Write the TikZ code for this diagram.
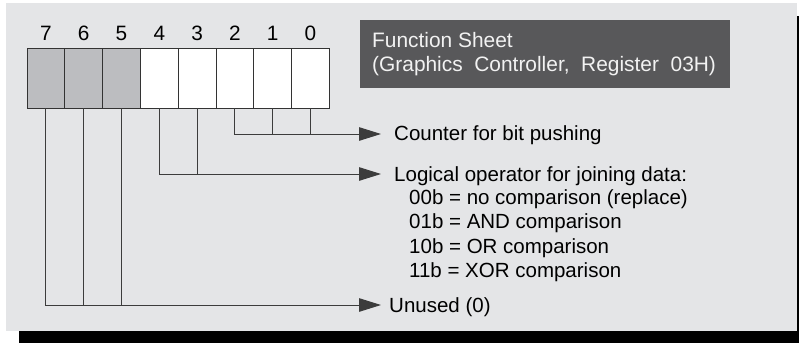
\documentclass[tikz,border=0pt]{standalone}
\usepackage{fontspec}
\setmainfont{Liberation Sans}
\usetikzlibrary{arrows.meta}
\definecolor{panel}{HTML}{E4E5E7}
\definecolor{cellgray}{HTML}{BCBDC0}
\definecolor{titlegray}{HTML}{58585A}
\definecolor{titletext}{HTML}{F2F2F2}
\definecolor{linegray}{HTML}{3C3C3C}
\begin{document}
\begin{tikzpicture}[x=1pt,y=-1pt,
  cell/.style={draw=black!80, line width=0.8pt, minimum width=37.8pt, minimum height=60pt, inner sep=0pt},
  txt/.style={anchor=base west, inner sep=0pt, font=\fontsize{20.5}{24.4}\selectfont, text=black},
  bitlabel/.style={anchor=base, inner sep=0pt, font=\fontsize{20.8}{24.4}\selectfont, text=black},
  titlebox/.style={anchor=north west, fill=titlegray, minimum width=370pt, minimum height=68pt, inner sep=0pt},
  titletxt/.style={anchor=base west, inner sep=0pt, font=\fontsize{20.9}{24.4}\selectfont, text=titletext},
  conn/.style={draw=linegray, line width=1pt},
  tip/.style={-{Triangle[length=22pt,width=13.5pt]}}
]
\useasboundingbox (0,0) rectangle (799,343);
\fill[black] (19,16) rectangle (799,343);
\fill[panel] (6,3) rectangle (797,330.5);

\foreach \b/\c [count=\k from 0] in {7/cellgray,6/cellgray,5/cellgray,4/white,3/white,2/white,1/white,0/white}{
  \node[cell, fill=\c] (b\b) at ({27+37.8*(\k+0.5)},78) {};
  \node[bitlabel] (l\b) at ({27+37.8*(\k+0.5)},40.7) {\b};
}

\node[titlebox] (title) at (360,20) {};
\node[titletxt] (t1) at (372,47.3) {Function Sheet};
\node[titletxt] (t2) at (372,71.7) {(Graphics\ \ Controller,\ \ Register\ \ 03H)};

\coordinate (tA) at (381,134);
\coordinate (tB) at (381,174);
\coordinate (tC) at (381,305);

\draw[conn,tip] (b2.south) |- (tA);
\draw[conn] (b1.south) -- (b1.south |- tA);
\draw[conn] (b0.south) -- (b0.south |- tA);

\draw[conn,tip] (b4.south) |- (tB);
\draw[conn] (b3.south) -- (b3.south |- tB);

\draw[conn,tip] (b7.south) |- (tC);
\draw[conn] (b6.south) -- (b6.south |- tC);
\draw[conn] (b5.south) -- (b5.south |- tC);

\node[txt] (counter) at (394,140) {Counter for bit pushing};
\node[txt] (logic) at (394,181) {Logical operator for joining data:};
\node[txt] (c0) at (409,204) {00b = no comparison (replace)};
\node[txt] (c1) at (409,228.5) {01b = AND comparison};
\node[txt] (c2) at (409,253) {10b = OR comparison};
\node[txt] (c3) at (409,277.3) {11b = XOR comparison};
\node[txt] (unused) at (389,312.7) {Unused (0)};
\end{tikzpicture}
\end{document}
